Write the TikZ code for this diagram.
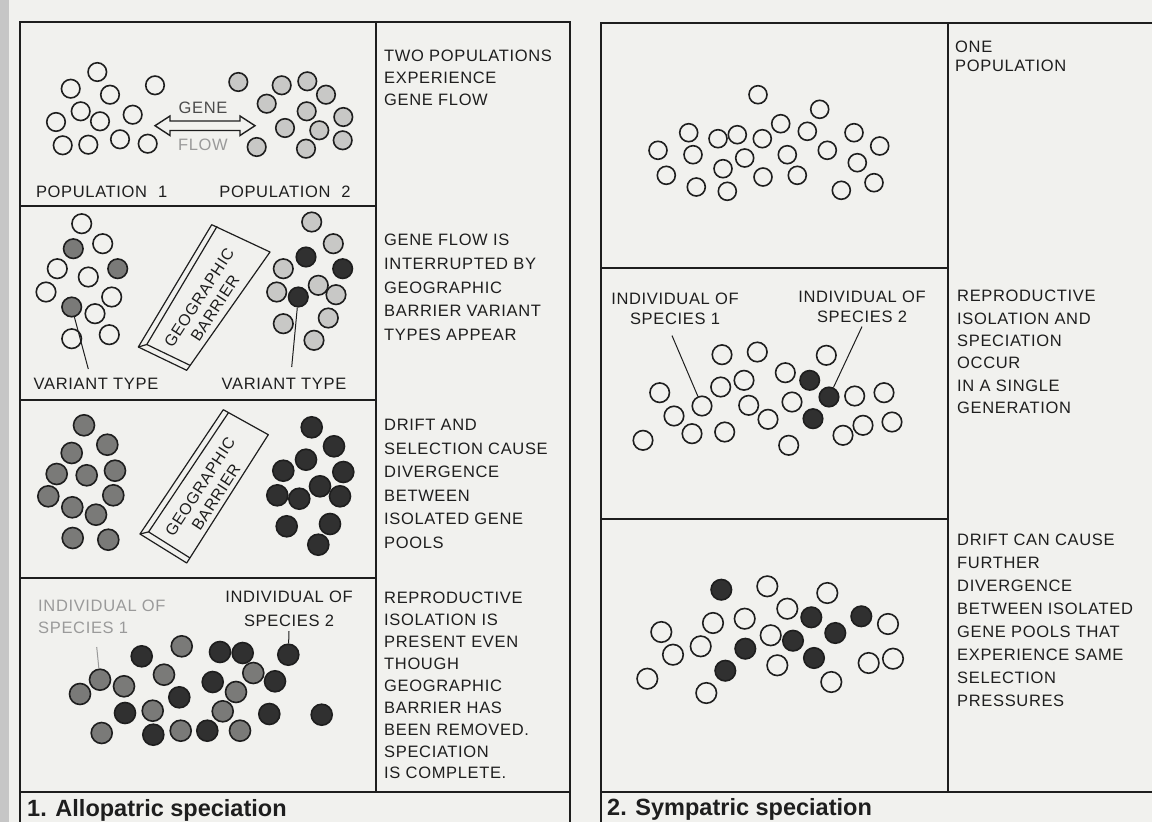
\documentclass[tikz,border=0pt]{standalone}
\usepackage{fontspec}
\setmainfont{Liberation Sans}[LetterSpace=4]
\newfontfamily\capfont{Liberation Sans}
\definecolor{ink}{HTML}{1E1E1E}
\definecolor{paper}{HTML}{F1F1EE}
\definecolor{ltfill}{HTML}{C8C8C6}
\definecolor{midfill}{HTML}{7A7A78}
\definecolor{dkfill}{HTML}{303030}
\definecolor{faded}{HTML}{9A9A9A}
\begin{document}
\begin{tikzpicture}[x=1pt,y=-1pt,
  frame/.style={draw=ink, line width=1.5pt},
  dot/.style={circle, inner sep=0pt, draw=ink, line width=1.6pt, minimum size=\dotsize},
  oc/.style={dot, fill=paper},
  lt/.style={dot, fill=ltfill},
  md/.style={dot, fill=midfill},
  dk/.style={dot, fill=dkfill},
  txt/.style={anchor=north west, inner sep=0pt, align=left, text=ink},
  lbl/.style={inner sep=0pt, text=ink, align=center, font=\fontsize{16.5}{20}\selectfont},
  ptr/.style={draw=ink, line width=1pt},
  barrier/.style={draw=ink, line width=1.2pt, line join=round},
  btext/.style={rotate=57, align=center, inner sep=0pt, text=ink, font=\fontsize{16}{19}\selectfont},
  captxt/.style={anchor=base west, inner sep=0pt, text=ink, font=\capfont\bfseries\fontsize{23.5}{27}\selectfont}
]
\def\dotsize{17pt}
\useasboundingbox (0,0) rectangle (1152,822);
\fill[paper] (0,0) rectangle (1152,822);
\fill[gray!45] (0,0) rectangle (9,822);

% ---------------- frames ----------------
\draw[frame] (20,822) -- (20,22) -- (570,22) -- (570,822);
\draw[frame] (376,22) -- (376,792);
\draw[frame] (20,206) -- (376,206);
\draw[frame] (20,400) -- (376,400);
\draw[frame] (20,578) -- (376,578);
\draw[frame] (20,792) -- (570,792);

\draw[frame] (601,822) -- (601,23) -- (1152,23);
\draw[frame] (948,23) -- (948,792);
\draw[frame] (601,268) -- (948,268);
\draw[frame] (601,519) -- (948,519);
\draw[frame] (601,792) -- (1152,792);

% ---------------- left row 1 ----------------
\def\dotsize{18.5pt}
\foreach \x/\y [count=\i] in {97.3/72, 70.7/88.7, 110/94.7, 155/85.3, 80.7/111.3, 56/122, 100/121.3, 132.7/114.7, 62.7/145.3, 88.3/144.7, 120/139.3, 147.7/143.7}
  {\node[oc] (pa\i) at (\x,\y) {};}
\foreach \x/\y [count=\i] in {238.3/82, 281.7/85.3, 307.3/81.3, 326/94.7, 266.7/103.7, 306.7/111.3, 343.3/117, 285/128, 319.3/130.3, 256.7/147, 342.7/140.3, 306/148.7}
  {\node[lt] (pb\i) at (\x,\y) {};}
\draw[ink, line width=1.4pt, line join=miter]
  (155,125.7) -- (170,116) -- (170,121) -- (240,121) -- (240,116) -- (255,125.7)
  -- (240,135.5) -- (240,130.5) -- (170,130.5) -- (170,135.5) -- cycle;
\node[lbl, text=ink!80] (gene) at (203,108) {GENE};
\node[lbl, text=faded] (flow) at (203,145) {FLOW};
\node[lbl] (pop1) at (101.7,192.3) {POPULATION\hspace{0.35em} 1};
\node[lbl] (pop2) at (285,192.3) {POPULATION\hspace{0.35em} 2};

% ---------------- left row 2 ----------------
\def\dotsize{19.5pt}
\foreach \x/\y/\s [count=\i] in {81.7/223.7/oc, 73.3/248.7/md, 102.7/243.7/oc, 57.3/268.7/oc, 88.3/277/oc, 117.7/268.7/md, 46/292/oc, 111.7/297/oc, 95/313.7/oc, 71.7/338.7/oc, 109.3/334.7/oc}
  {\node[\s] (qa\i) at (\x,\y) {};}
\node[md] (varL) at (71.7,307) {};
\foreach \x/\y/\s [count=\i] in {311.7/222/lt, 333.3/243.7/lt, 306/257/dk, 342.7/268.7/dk, 283.3/268.7/lt, 318.3/285.3/lt, 336/294.7/lt, 276.7/292/lt, 328.3/318/lt, 283.3/323.7/lt, 314/340.3/lt}
  {\node[\s] (qb\i) at (\x,\y) {};}
\node[dk] (varR) at (298.3,297) {};
\node[lbl] (vlabL) at (96,384) {VARIANT TYPE};
\node[lbl] (vlabR) at (284,384) {VARIANT TYPE};
\coordinate (vendL) at (88.3,369);
\coordinate (vendR) at (291.7,367);
\draw[ptr] (varL) -- (vendL);
\draw[ptr] (varR) -- (vendR);
% barrier 1
\draw[barrier] (211.7,224.7) -- (270,252) -- (186.7,370.3) -- (138.3,347) -- cycle;
\draw[barrier] (217.1,226.3) -- (146.8,344.5) -- (190.2,365.4);
\draw[barrier] (138.3,347) -- (146.8,344.5);
\node[btext] (gb1) at (207,303) {GEOGRAPHIC\\BARRIER};

% ---------------- left row 3 ----------------
\def\dotsize{21pt}
\foreach \x/\y [count=\i] in {84/425.3, 107.3/444.7, 71.7/453, 56.7/474, 86.7/475.3, 115/470.7, 48.3/496.3, 113.3/495.3, 72.3/507.3, 96/514.7, 72.7/538, 108.3/539.7}
  {\node[md] (ra\i) at (\x,\y) {};}
\foreach \x/\y [count=\i] in {311.7/427.3, 334/446.3, 306/459.7, 283.3/470.7, 343.3/472, 320/486.3, 277.3/495.3, 299.3/498.7, 340/496.3, 286.7/526.3, 330/524, 318.3/544.7}
  {\node[dk] (rb\i) at (\x,\y) {};}
\draw[barrier] (223.3,409.7) -- (268.3,434.7) -- (186.7,563) -- (140,534) -- cycle;
\draw[barrier] (228.5,412.6) -- (148.6,531.9) -- (189.9,557.9);
\draw[barrier] (140,534) -- (148.6,531.9);
\node[btext] (gb2) at (208,492) {GEOGRAPHIC\\BARRIER};

% ---------------- left row 4 ----------------
\foreach \x/\y/\s [count=\i] in {80/694/md, 124/686.3/md, 141.7/656.3/dk, 164/674.7/md, 181.7/646.3/md, 179.3/697.3/dk, 125/713/dk, 152.7/710.7/md, 101.7/733/md, 153.3/734.7/dk, 180.7/730.7/md, 207.3/730.7/dk, 220/652/dk, 242.7/653/dk, 212.7/682/dk, 253.3/673/md, 275/681.3/dk, 236/692/md, 222.7/711.3/md, 269.3/714/dk, 240/730.7/md, 321.7/714.7/dk}
  {\node[\s] (sa\i) at (\x,\y) {};}
\node[md] (sp1) at (100,679.7) {};
\node[dk] (sp2) at (288.3,654.7) {};
\node[txt, text=faded, font=\fontsize{16.5}{22}\selectfont] (ilab1) at (38,600) {INDIVIDUAL OF\\SPECIES 1};
\node[lbl, anchor=north, font=\fontsize{16.5}{24}\selectfont] (ilab2) at (289,591) {INDIVIDUAL OF\\SPECIES 2};
\coordinate (iend1) at (96.7,647);
\draw[ptr, draw=faded] (iend1) -- (sp1);
\draw[ptr] ([yshift=-4pt]ilab2.south) -- (sp2);

% ---------------- left texts ----------------
\node[txt, font=\fontsize{16.5}{22}\selectfont] (t1) at (384,50) {TWO POPULATIONS\\EXPERIENCE\\GENE FLOW};
\node[txt, font=\fontsize{16.5}{23.7}\selectfont] (t2) at (384,234) {GENE FLOW IS\\INTERRUPTED BY\\GEOGRAPHIC\\BARRIER VARIANT\\TYPES APPEAR};
\node[txt, font=\fontsize{16.5}{23.6}\selectfont] (t3) at (384,419) {DRIFT AND\\SELECTION CAUSE\\DIVERGENCE\\BETWEEN\\ISOLATED GENE\\POOLS};
\node[txt, font=\fontsize{16.5}{21.9}\selectfont] (t4) at (384,592) {REPRODUCTIVE\\ISOLATION IS\\PRESENT EVEN\\THOUGH\\GEOGRAPHIC\\BARRIER HAS\\BEEN REMOVED.\\SPECIATION\\IS COMPLETE.};
\node[captxt] (cap1) at (27,816) {1. Allopatric speciation};

% ---------------- right row 1 ----------------
\def\dotsize{18pt}
\foreach \x/\y [count=\i] in {758/94.7, 819.7/109.3, 688.7/132.7, 718/138.7, 737.3/134.7, 762.3/138.7, 780.7/123.7, 807.3/131.3, 854/132.7, 658/150.3, 693/154.7, 744.7/158, 787.3/154.7, 827.3/150.3, 879.7/146, 723/168.7, 857.3/162.7, 666.3/175.3, 763/177, 797.3/175.3, 696.3/187, 727.3/191.3, 841.3/190.3, 874/182.7}
  {\node[oc] (ua\i) at (\x,\y) {};}

% ---------------- right row 2 ----------------
\def\dotsize{19.5pt}
\foreach \x/\y/\s [count=\i] in {722/354.7/oc, 757.3/352/oc, 826.3/355.3/oc, 785.3/372.7/oc, 809.7/380.3/dk, 720.7/387/oc, 744/380.3/oc, 659.7/392.7/oc, 854.7/396/oc, 884/392.7/oc, 748.7/405.3/oc, 792/402/oc, 674/416/oc, 768/419.3/oc, 813/418.7/dk, 692/433.7/oc, 724.7/432/oc, 643/440.3/oc, 843/435.3/oc, 863/425.3/oc, 892/422/oc, 788.7/445.3/oc}
  {\node[\s] (va\i) at (\x,\y) {};}
\node[oc] (ind1) at (702,406) {};
\node[dk] (ind2) at (829,397) {};
\node[lbl, anchor=north, font=\fontsize{16.5}{19.5}\selectfont] (jlab1) at (675,293) {INDIVIDUAL OF\\SPECIES 1};
\node[lbl, anchor=north, font=\fontsize{16.5}{19.5}\selectfont] (jlab2) at (862,291) {INDIVIDUAL OF\\SPECIES 2};
\draw[ptr] ([xshift=-3pt,yshift=-11pt]jlab1.south) -- (ind1);
\draw[ptr] ([yshift=-4pt]jlab2.south) -- (ind2);

% ---------------- right row 3 ----------------
\def\dotsize{20.5pt}
\foreach \x/\y/\s [count=\i] in {721.3/589.7/dk, 767.3/586.3/oc, 827.3/593/oc, 787.3/608.7/oc, 811.3/617.3/dk, 861.3/616.3/dk, 888/624/oc, 713/623/oc, 744.7/618.7/oc, 661.3/632/oc, 770.7/635.3/oc, 793/640.7/dk, 835.3/633/dk, 700.7/646.3/oc, 745.3/648.7/dk, 673/654.7/oc, 777.3/665.3/oc, 814/658/dk, 868.7/663/oc, 893/658.7/oc, 725.3/670.7/dk, 647.3/678.7/oc, 831.3/682/oc, 706.3/693/oc}
  {\node[\s] (wa\i) at (\x,\y) {};}

% ---------------- right texts ----------------
\node[txt, font=\fontsize{16.5}{19}\selectfont] (u1) at (955,41) {ONE\\POPULATION};
\node[txt, font=\fontsize{16.5}{22.4}\selectfont] (u2) at (957,290) {REPRODUCTIVE\\ISOLATION AND\\SPECIATION\\OCCUR\\IN A SINGLE\\GENERATION};
\node[txt, font=\fontsize{16.5}{23}\selectfont] (u3) at (957,534) {DRIFT CAN CAUSE\\FURTHER\\DIVERGENCE\\BETWEEN ISOLATED\\GENE POOLS THAT\\EXPERIENCE SAME\\SELECTION\\PRESSURES};
\node[captxt] (cap2) at (607,815) {2. Sympatric speciation};
\end{tikzpicture}
\end{document}
